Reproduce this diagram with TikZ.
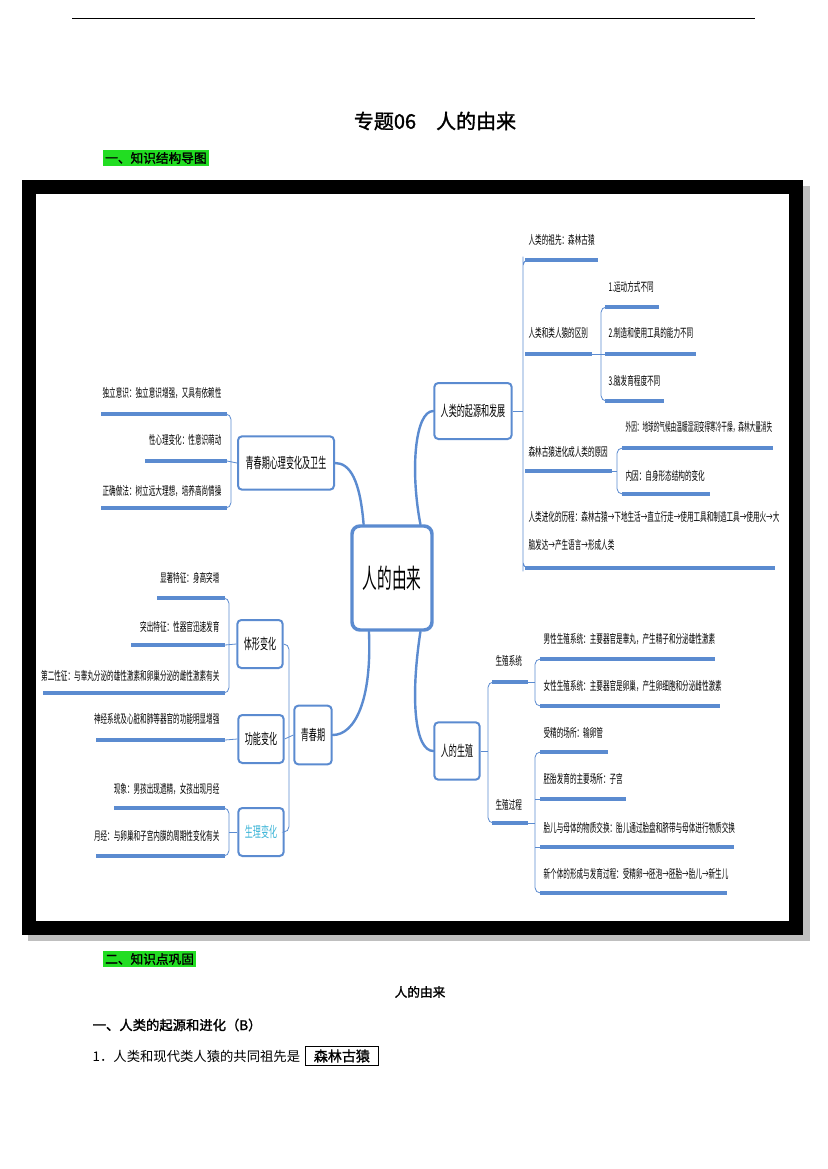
\documentclass[tikz,border=0pt]{standalone}
\usepackage{fontspec}
\usepackage{graphicx}
\setmainfont{Noto Sans CJK SC}
\newfontfamily\cjkb[FakeBold=1.5]{Noto Sans CJK SC}
\newcommand{\sq}[1]{\scalebox{0.55}[1]{#1}}
\newcommand{\sqq}[1]{\scalebox{0.47}[1]{#1}}
\definecolor{mapblue}{HTML}{5B8BD0}
\definecolor{hlgreen}{HTML}{22DD22}
\definecolor{cyantext}{HTML}{3FB6D8}
\tikzset{
  bar/.style={draw=mapblue,line width=3pt},
  thin/.style={draw=mapblue,line width=0.6pt},
  main/.style={draw=mapblue,line width=1.8pt,line cap=round},
  lf/.style={font=\fontsize{9}{11}\selectfont,inner sep=1pt},
  box/.style={draw=mapblue,line width=1.5pt,rounded corners=3pt,fill=white,align=center,inner sep=2pt,font=\fontsize{11}{13}\selectfont},
}
\newcommand{\leafL}[6]{% name, x1, x2, ybar, ytext, text
  \node[lf,anchor=west] (#1) at (#2+2,#5) {\sq{#6}};
  \coordinate (#1a) at (#2,#4); \coordinate (#1b) at (#3,#4);
  \draw[bar] (#1a) -- (#1b);}
\newcommand{\leafR}[6]{%
  \node[lf,anchor=east] (#1) at (#3-4,#5) {\sq{#6}};
  \coordinate (#1a) at (#2,#4); \coordinate (#1b) at (#3,#4);
  \draw[bar] (#1a) -- (#1b);}
\begin{document}
\begin{tikzpicture}[x=0.75pt,y=-0.75pt]
\useasboundingbox (0,0) rectangle (827,1169);
\coordinate (hl1) at (72,18); \coordinate (hl2) at (755,18);
\draw[line width=0.5pt] (hl1) -- (hl2);
\node[font=\cjkb\fontsize{15}{18}\selectfont] (title) at (435,121) {专题06\quad 人的由来};
\node[fill=hlgreen,font=\cjkb\fontsize{9.5}{11}\selectfont,inner sep=1.5pt,anchor=west] (s1) at (103,158) {一、知识结构导图};
% frame
\fill[gray!50] (28,186) rectangle (810,941);
\fill[black] (22,180) rectangle (803,935);
\fill[white] (36,194) rectangle (789,921);

% center and main boxes
\node[box,line width=2.6pt,rounded corners=6pt,minimum width=60pt,minimum height=78pt,font=\fontsize{20}{24}\selectfont] (c) at (392,578) {\sq{人的由来}};
\node[box,minimum width=58pt,minimum height=42pt] (o) at (473,411) {\sq{人类的起源和发展}};
\node[box,minimum width=34pt,minimum height=43pt] (r) at (457,751) {\sq{人的生殖}};
\node[box,minimum width=72pt,minimum height=40pt] (p) at (286,463) {\sq{青春期心理变化及卫生}};
\node[box,minimum width=28pt,minimum height=44pt] (q) at (313,735) {\sq{青春期}};
\node[box,minimum width=34pt,minimum height=36pt] (b1) at (260,644) {\sq{体形变化}};
\node[box,minimum width=34pt,minimum height=36pt] (b2) at (261,739) {\sq{功能变化}};
\node[box,minimum width=34pt,minimum height=36pt,text=cyantext] (b3) at (261,832) {\sq{生理变化}};
% main connectors
\draw[main] ([xshift=-10pt]c.north east) .. controls (410,470) and (415,411) .. (o.west);
\draw[main] ([xshift=10pt]c.north west) .. controls (360,480) and (350,463) .. (p.east);
\draw[main] ([xshift=-10pt]c.south east) .. controls (410,700) and (415,751) .. (r.west);
\draw[main] ([xshift=14pt]c.south west) .. controls (372,700) and (355,735) .. (q.east);

% right group
\leafL{l1}{525}{598}{260}{240}{人类的祖先：森林古猿}
\leafL{l2}{525}{592}{354}{333}{人类和类人猿的区别}
\leafL{l21}{605}{659}{307}{287}{1.运动方式不同}
\leafL{l22}{605}{696}{354}{333}{2.制造和使用工具的能力不同}
\leafL{l23}{605}{664}{401}{381}{3.脑发育程度不同}
\leafL{l3}{525}{612}{471}{452}{森林古猿进化成人类的原因}
\node[lf,anchor=west] (l31) at (624,427) {\sqq{外因：地球的气候由温暖湿润变得寒冷干燥，森林大量消失}};
\coordinate (l31a) at (622,448); \coordinate (l31b) at (773,448);
\draw[bar] (l31a) -- (l31b);
\leafL{l32}{622}{710}{494}{476}{内因：自身形态结构的变化}
\node[lf,anchor=north west,align=left,font=\fontsize{9}{21}\selectfont] (l4) at (527,510) {\sq{人类进化的历程：森林古猿→下地生活→直立行走→使用工具和制造工具→使用火→大}\\\sq{脑发达→产生语言→形成人类}};
\coordinate (l4a) at (525,568); \coordinate (l4b) at (775,568);
\draw[bar] (l4a) -- (l4b);
\coordinate (rv1) at (523,262); \coordinate (rv2) at (523,566);
\draw[thin,rounded corners=4pt] (l1a) -| (rv1) -- (rv2) |- (l4a);
\draw[thin] (o.east) -- (523,411);
\draw[thin,rounded corners=4pt] (l21a) -| (601,330) -- (601,380) |- (l23a);
\draw[thin] (l2b) -- (l22a);
\draw[thin,rounded corners=4pt] (l31a) -| (617,460) -- (617,480) |- (l32a);
\draw[thin] (l3b) -- (617,471);

% left psychology group
\leafR{p1}{101}{227}{414}{393}{独立意识：独立意识增强，又具有依赖性}
\leafR{p2}{145}{227}{461}{440}{性心理变化：性意识萌动}
\leafR{p3}{101}{227}{508}{491}{正确做法：树立远大理想，培养高尚情操}
\draw[thin,rounded corners=4pt] (p1b) -| (231,440) -- (231,480) |- (p3b);
\draw[thin] (p2b) -- (p.west);

% body shape
\leafR{t1}{157}{225}{598}{578}{显著特征：身高突增}
\leafR{t2}{131}{225}{645}{627}{突出特征：性器官迅速发育}
\leafR{t3}{43}{225}{693}{676}{第二性征：与睾丸分泌的雄性激素和卵巢分泌的雌性激素有关}
\draw[thin,rounded corners=4pt] (t1b) -| (229,620) -- (229,670) |- (t3b);
\draw[thin] (t2b) -- (b1.west);
\leafR{f1}{96}{225}{740}{719}{神经系统及心脏和肺等器官的功能明显增强}
\draw[thin] (f1b) -- (b2.west);
\leafR{g1}{114}{225}{808}{789}{现象：男孩出现遗精，女孩出现月经}
\leafR{g2}{96}{225}{856}{836}{月经：与卵巢和子宫内膜的周期性变化有关}
\draw[thin,rounded corners=4pt] (g1b) -| (229,820) -- (229,845) |- (g2b);
\draw[thin] (229,832) -- (b3.west);
\draw[thin,rounded corners=4pt] (b1.east) -| (289,700) -- (289,780) |- (b3.east);
\draw[thin] (b2.east) -- (q.west);

% reproduction
\leafL{s1b}{492}{528}{682}{661}{生殖系统}
\leafL{s2b}{492}{528}{823}{805}{生殖过程}
\draw[thin,rounded corners=4pt] (s1ba) -| (488,720) -- (488,780) |- (s2ba);
\draw[thin] (r.east) -- (488,751);
\leafL{m1}{540}{715}{659}{639}{男性生殖系统：主要器官是睾丸，产生精子和分泌雄性激素}
\leafL{m2}{540}{720}{706}{686}{女性生殖系统：主要器官是卵巢，产生卵细胞和分泌雌性激素}
\draw[thin,rounded corners=4pt] (m1a) -| (535,675) -- (535,690) |- (m2a);
\draw[thin] (s1bb) -- (535,682);
\leafL{n1}{540}{608}{752}{733}{受精的场所：输卵管}
\leafL{n2}{540}{626}{799}{779}{胚胎发育的主要场所：子宫}
\leafL{n3}{540}{734}{847}{828}{胎儿与母体的物质交换：胎儿通过胎盘和脐带与母体进行物质交换}
\leafL{n4}{540}{727}{893}{874}{新个体的形成与发育过程：受精卵→胚泡→胚胎→胎儿→新生儿}
\draw[thin,rounded corners=4pt] (n1a) -| (535,790) -- (535,870) |- (n4a);
\draw[thin] (s2bb) -- (535,823);
\draw[thin] (n2a) -- (535,799);
\draw[thin] (n3a) -- (535,847);

% lower text
\node[fill=hlgreen,font=\cjkb\fontsize{9.5}{11}\selectfont,inner sep=1.5pt,anchor=west] (s2) at (103,959) {二、知识点巩固};
\node[font=\cjkb\fontsize{9.5}{11}\selectfont] (h2) at (420,992) {人的由来};
\node[font=\cjkb\fontsize{10}{12}\selectfont,anchor=west] (h3) at (88,1025) {一、人类的起源和进化（B）};
\node[font=\fontsize{10}{12}\selectfont,anchor=west] (q1) at (88,1056) {1．人类和现代类人猿的共同祖先是};
\node[draw,line width=0.6pt,font=\cjkb\fontsize{10.5}{12}\selectfont,anchor=west,inner sep=2pt,minimum width=55pt] (a1) at (q1.east) {森林古猿};
\end{tikzpicture}
\end{document}
